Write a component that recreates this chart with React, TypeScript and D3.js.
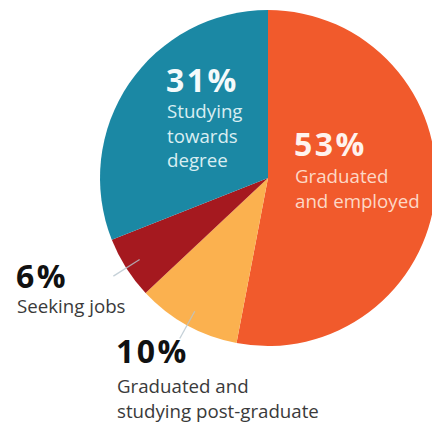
import React from "react";
import * as d3 from "d3";

const categories = [
  "Graduated and employed",
  "Graduated and studying post-graduate",
  "Seeking jobs",
  "Studying towards degree",
];
const values = [53, 10, 6, 31];
const percentLabels = ["53%", "10%", "6%", "31%"];
const labelLines = [
  ["Graduated", "and employed"],
  ["Graduated and", "studying post-graduate"],
  ["Seeking jobs"],
  ["Studying", "towards", "degree"],
];
const colors = ["#f15a2c", "#fbb14f", "#a5191f", "#1b88a4"];

// label layout (x, baseline y of the percentage, first-line offset, colours)
const labelLayout = [
  { x: 294, y: 156, dy: 27, pctFill: "#fff3ee", textFill: "#fdd8c6", leader: false },
  { x: 116, y: 363, dy: 30, pctFill: "#111111", textFill: "#3a3a3a", leader: true },
  { x: 16, y: 288, dy: 25, pctFill: "#111111", textFill: "#3a3a3a", leader: true },
  { x: 166, y: 92, dy: 26, pctFill: "#f4fafb", textFill: "#d9eef2", leader: false },
];

const W = 432;
const H = 422;
const cx = 268;
const cy = 178;
const R = 168;

export default function App() {
  const pie = d3
    .pie<number>()
    .sort(null)
    .value((d) => d)
    .startAngle(0)
    .endAngle(2 * Math.PI);
  const arcs = pie(values);
  const arc = d3.arc<d3.PieArcDatum<number>>().innerRadius(0).outerRadius(R);
  const font = "'Open Sans', 'Noto Sans', sans-serif";

  return (
    <svg
      width={W}
      height={H}
      style={{ position: "absolute", left: 0, top: 0, background: "#fff" }}
    >
      <g transform={`translate(${cx},${cy})`}>
        {arcs.map((a, i) => (
          <path key={categories[i]} d={arc(a) || ""} fill={colors[i]} />
        ))}
        {arcs.map((a, i) => {
          if (!labelLayout[i].leader) return null;
          const mid = (a.startAngle + a.endAngle) / 2;
          const r0 = R * 0.905;
          const r1 = R * 1.09;
          return (
            <line
              key={"l" + i}
              x1={Math.sin(mid) * r0}
              y1={-Math.cos(mid) * r0}
              x2={Math.sin(mid) * r1}
              y2={-Math.cos(mid) * r1}
              stroke="#b7c6cf"
              strokeWidth={1.3}
              opacity={0.8}
            />
          );
        })}
      </g>
      {labelLayout.map((L, i) => (
        <g key={"t" + i}>
          <text
            x={L.x}
            y={L.y}
            fontFamily={font}
            fontWeight={700}
            fontSize={32}
            letterSpacing={2.5}
            fill={L.pctFill}
          >
            {percentLabels[i]}
          </text>
          {labelLines[i].map((line, j) => (
            <text
              key={j}
              x={L.x + 1}
              y={L.y + L.dy + j * 24.5}
              fontFamily={font}
              fontSize={18.7}
              fill={L.textFill}
            >
              {line}
            </text>
          ))}
        </g>
      ))}
    </svg>
  );
}
